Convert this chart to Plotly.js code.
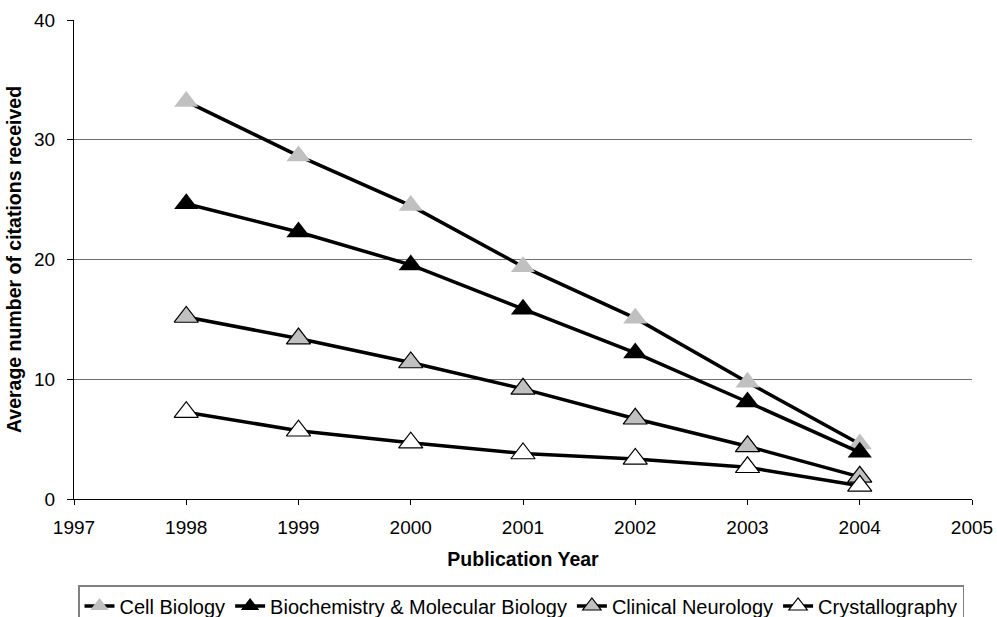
<!DOCTYPE html>
<html>
<head>
<meta charset="utf-8">
<script src="https://cdn.plot.ly/plotly-3.0.1.min.js"></script>
<style>html,body{margin:0;padding:0;background:#fff;}#chart{width:997px;height:617px;}</style>
</head>
<body>
<div id="chart"></div>
<script>
const years = [1998, 1999, 2000, 2001, 2002, 2003, 2004];
const seriesNames = ["Cell Biology", "Biochemistry & Molecular Biology", "Clinical Neurology", "Crystallography"];
const cellBiology = [33.2, 28.65, 24.5, 19.4, 15.1, 9.75, 4.6];
const biochemistry = [24.65, 22.3, 19.55, 15.85, 12.2, 8.1, 3.9];
const clinicalNeurology = [15.2, 13.4, 11.4, 9.2, 6.7, 4.4, 1.85];
const crystallography = [7.25, 5.7, 4.7, 3.8, 3.35, 2.65, 1.1];
const xTicks = [1997, 1998, 1999, 2000, 2001, 2002, 2003, 2004, 2005];
const yTicks = [0, 10, 20, 30, 40];

const FONT = "Liberation Sans, Arial, sans-serif";
const styles = [
  {fill: "#c0c0c0", line: "#c0c0c0", lw: 0},
  {fill: "#000000", line: "#000000", lw: 0},
  {fill: "#c0c0c0", line: "#000000", lw: 1.2},
  {fill: "#ffffff", line: "#000000", lw: 1.2}
];
const values = [cellBiology, biochemistry, clinicalNeurology, crystallography];

const traces = values.map((v, i) => ({
  x: years, y: v, name: seriesNames[i], type: "scatter", mode: "lines+markers",
  line: {color: "#000000", width: 3.5},
  marker: {symbol: "triangle-up", size: 21, color: styles[i].fill,
           line: {color: styles[i].line, width: styles[i].lw}}
}));

const layout = {
  width: 997, height: 617,
  margin: {l: 74, r: 25, t: 20, b: 118},
  paper_bgcolor: "#ffffff", plot_bgcolor: "#ffffff",
  font: {family: FONT, color: "#000000", size: 19},
  showlegend: true,
  xaxis: {
    automargin: false,
    range: [1997, 2005], tickvals: xTicks, ticktext: xTicks.map(String),
    showgrid: false, zeroline: false, showline: true, linecolor: "#000000", linewidth: 1,
    ticks: "outside", ticklen: 5, tickcolor: "#000000",
    ticklabelstandoff: 6,
    tickfont: {family: FONT, size: 19},
    title: {text: "<b>Publication Year</b>", font: {family: FONT, size: 19.5}, standoff: 15}
  },
  yaxis: {
    automargin: false,
    range: [0, 40], tickvals: yTicks, ticktext: yTicks.map(String),
    showgrid: true, gridcolor: "#707070", gridwidth: 1,
    zeroline: false, showline: true, linecolor: "#000000", linewidth: 1,
    ticks: "outside", ticklen: 6, tickcolor: "#000000",
    ticklabelstandoff: 8,
    tickfont: {family: FONT, size: 19},
    title: {text: "<b>Average number of citations received</b>", font: {family: FONT, size: 19.5}, standoff: 7}
  },
  legend: {
    orientation: "h", xref: "container", yref: "container",
    x: 78 / 997, xanchor: "left", y: (617 - 585) / 617, yanchor: "top",
    bgcolor: "#ffffff", bordercolor: "#808080", borderwidth: 1.5,
    font: {family: FONT, size: 20}, itemwidth: 30, tracegroupgap: 0
  }
};

Plotly.newPlot("chart", traces, layout, {displayModeBar: false, staticPlot: true});
</script>
</body>
</html>
